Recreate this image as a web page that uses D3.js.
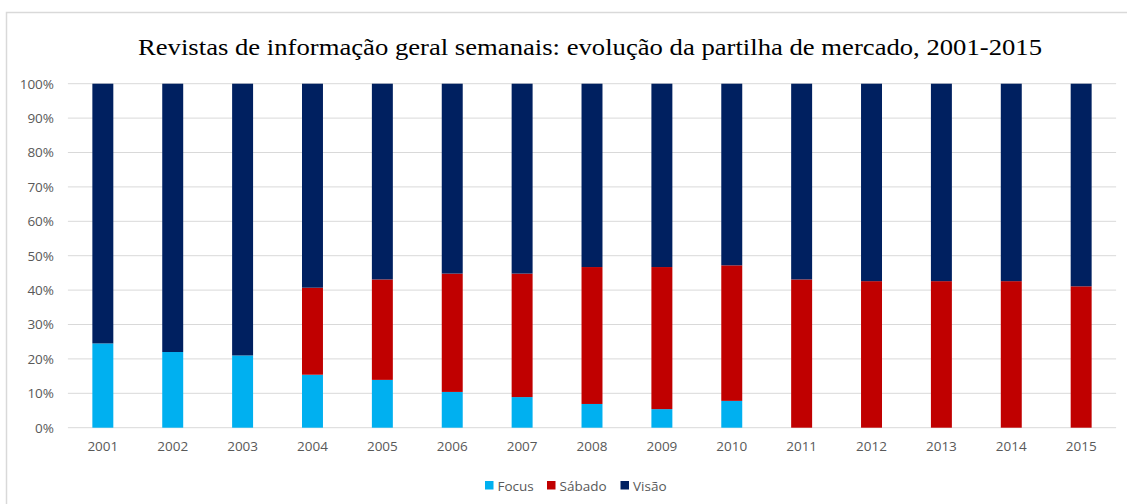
<!DOCTYPE html>
<html>
<head>
<meta charset="utf-8">
<script src="https://cdn.jsdelivr.net/npm/d3@7"></script>
<style>
  html, body { margin: 0; padding: 0; background: #fff; }
  svg { display: block; }
</style>
</head>
<body>
<svg id="chart" width="1127" height="504"></svg>
<script>
const years = ["2001","2002","2003","2004","2005","2006","2007","2008","2009","2010","2011","2012","2013","2014","2015"];
const focus  = [24.5, 22.0, 21.0, 15.4, 13.9, 10.4, 8.9, 6.9, 5.4, 7.8, 0, 0, 0, 0, 0];
const sabado = [0, 0, 0, 25.3, 29.2, 34.4, 35.9, 39.8, 41.3, 39.4, 43.1, 42.6, 42.6, 42.6, 41.1];
const visao  = [75.5, 78.0, 79.0, 59.3, 56.9, 55.2, 55.2, 53.3, 53.3, 52.8, 56.9, 57.4, 57.4, 57.4, 58.9];
const seriesNames = ["Focus", "Sábado", "Visão"];
const seriesColors = ["#00b0f0", "#c00000", "#002060"];
const yTicks = [0, 10, 20, 30, 40, 50, 60, 70, 80, 90, 100];
const title = "Revistas de informação geral semanais: evolução da partilha de mercado, 2001-2015";

(function () {
const svg = d3.select("#chart");
const W = 1127, H = 504;
const plotL = 67.9, plotR = 1116.1, plotT = 83.7, plotB = 427.7;

// chart border
svg.append("path")
  .attr("d", `M6.5,${H} L6.5,12.5 L${W},12.5`)
  .attr("fill", "none").attr("stroke", "#d9d9d9").attr("stroke-width", 1.5);

svg.append("text")
  .attr("x", 590).attr("y", 55)
  .attr("text-anchor", "middle")
  .attr("font-family", "'Liberation Serif', 'Times New Roman', serif")
  .attr("font-size", 23)
  .attr("textLength", 904)
  .attr("lengthAdjust", "spacingAndGlyphs")
  .attr("fill", "#000")
  .text(title);

const x = d3.scaleBand().domain(years).range([plotL, plotR]).paddingInner(0.7).paddingOuter(0.35);
const y = d3.scaleLinear().domain([0, 100]).range([plotB, plotT]);

// gridlines
svg.append("g").selectAll("line").data(yTicks).join("line")
  .attr("x1", plotL).attr("x2", plotR)
  .attr("y1", d => y(d)).attr("y2", d => y(d))
  .attr("stroke", "#d9d9d9").attr("stroke-width", 1);

// y axis labels
const yAxis = d3.axisLeft(y).tickValues(yTicks).tickFormat(d => d + "%").tickSize(0).tickPadding(0);
const gy = svg.append("g").attr("transform", `translate(54,0)`).call(yAxis);
gy.select(".domain").remove();
gy.selectAll("text").attr("font-family", "'Open Sans', sans-serif").attr("font-size", 13.5).attr("fill", "#595959");

// x axis labels
const xAxis = d3.axisBottom(x).tickSize(0).tickPadding(0);
const gx = svg.append("g").attr("transform", `translate(0,441)`).call(xAxis);
gx.select(".domain").remove();
gx.selectAll("text").attr("font-family", "'Open Sans', sans-serif").attr("font-size", 13.5).attr("fill", "#595959");

// stacked data
const rows = years.map((yr, i) => ({ year: yr, Focus: focus[i], "Sábado": sabado[i], "Visão": visao[i] }));
const stack = d3.stack().keys(seriesNames)(rows);

svg.append("g").selectAll("g").data(stack).join("g")
  .attr("fill", (d, i) => seriesColors[i])
  .selectAll("rect").data(d => d.filter(p => p[1] - p[0] > 0)).join("rect")
  .attr("x", d => x(d.data.year))
  .attr("width", x.bandwidth())
  .attr("y", d => y(d[1]))
  .attr("height", d => y(d[0]) - y(d[1]));

// legend
const legendX = [485, 547, 620.5];
const lg = svg.append("g");
seriesNames.forEach((name, i) => {
  lg.append("rect").attr("x", legendX[i]).attr("y", 481).attr("width", 8.5).attr("height", 8.5).attr("fill", seriesColors[i]);
  lg.append("text").attr("x", legendX[i] + 12.5).attr("y", 490.5)
    .attr("font-family", "'Open Sans', sans-serif").attr("font-size", 13.5).attr("fill", "#595959")
    .text(name);
});
})();
</script>
</body>
</html>
